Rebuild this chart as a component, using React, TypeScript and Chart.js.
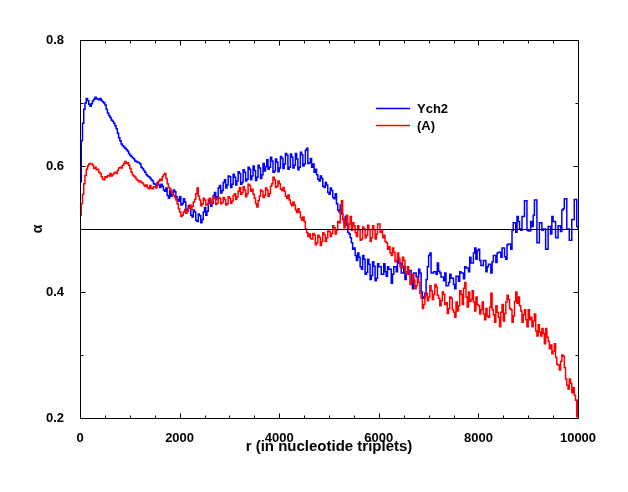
import React, { useEffect, useRef } from "react";
import { Chart, registerables } from "chart.js";

Chart.register(...registerables);

// sampling step along r (nucleotide triplets)
const R_STEP = 25;

// alpha(r) for Ych2, r = 0, 25, ..., 10000 (40 values per 1000)
const YCH2 = [
  0.575, 0.640, 0.668, 0.690, 0.700, 0.707, 0.704, 0.698, 0.695, 0.699, 0.703, 0.706, 0.709, 0.707, 0.706, 0.705, 0.707, 0.704, 0.702, 0.700,
  0.697, 0.690, 0.684, 0.680, 0.677, 0.673, 0.671, 0.668, 0.664, 0.659, 0.652, 0.645, 0.640, 0.635, 0.632, 0.630, 0.628, 0.626, 0.624, 0.620,
  0.617, 0.615, 0.613, 0.611, 0.608, 0.607, 0.606, 0.605, 0.603, 0.598, 0.596, 0.593, 0.590, 0.586, 0.584, 0.583, 0.581, 0.578, 0.576, 0.572,
  0.571, 0.569, 0.574, 0.570, 0.566, 0.571, 0.568, 0.562, 0.560, 0.565, 0.553, 0.549, 0.561, 0.552, 0.556, 0.562, 0.559, 0.551, 0.547, 0.544,
  0.551, 0.538, 0.540, 0.548, 0.543, 0.531, 0.528, 0.537, 0.533, 0.522, 0.519, 0.530, 0.527, 0.514, 0.512, 0.524, 0.521, 0.510, 0.515, 0.527,
  0.534, 0.522, 0.528, 0.540, 0.547, 0.536, 0.541, 0.553, 0.558, 0.547, 0.551, 0.565, 0.569, 0.557, 0.561, 0.574, 0.578, 0.565, 0.570, 0.584,
  0.583, 0.566, 0.571, 0.587, 0.582, 0.570, 0.576, 0.591, 0.588, 0.571, 0.574, 0.594, 0.590, 0.576, 0.579, 0.598, 0.595, 0.578, 0.584, 0.600,
  0.593, 0.577, 0.582, 0.601, 0.597, 0.580, 0.586, 0.604, 0.592, 0.599, 0.610, 0.595, 0.598, 0.614, 0.608, 0.590, 0.592, 0.611, 0.606, 0.591,
  0.597, 0.615, 0.612, 0.596, 0.603, 0.620, 0.617, 0.595, 0.598, 0.619, 0.614, 0.597, 0.601, 0.620, 0.611, 0.594, 0.598, 0.622, 0.618, 0.600,
  0.603, 0.625, 0.628, 0.604, 0.605, 0.612, 0.598, 0.603, 0.590, 0.595, 0.586, 0.579, 0.576, 0.584, 0.580, 0.568, 0.566, 0.574, 0.570, 0.558,
  0.555, 0.565, 0.561, 0.550, 0.548, 0.556, 0.540, 0.530, 0.527, 0.538, 0.524, 0.515, 0.510, 0.520, 0.506, 0.495, 0.492, 0.486, 0.478, 0.468,
  0.470, 0.458, 0.450, 0.462, 0.455, 0.440, 0.436, 0.458, 0.452, 0.428, 0.431, 0.452, 0.444, 0.420, 0.426, 0.448, 0.441, 0.418, 0.422, 0.445,
  0.440, 0.440, 0.428, 0.428, 0.445, 0.432, 0.425, 0.440, 0.436, 0.436, 0.414, 0.428, 0.440, 0.440, 0.432, 0.455, 0.446, 0.446, 0.430, 0.430,
  0.441, 0.420, 0.428, 0.428, 0.434, 0.434, 0.418, 0.405, 0.430, 0.430, 0.424, 0.424, 0.436, 0.430, 0.400, 0.392, 0.390, 0.398, 0.420, 0.440,
  0.458, 0.462, 0.430, 0.430, 0.432, 0.432, 0.428, 0.446, 0.433, 0.430, 0.424, 0.424, 0.418, 0.430, 0.410, 0.410, 0.415, 0.428, 0.422, 0.422,
  0.412, 0.405, 0.425, 0.425, 0.417, 0.432, 0.430, 0.430, 0.421, 0.440, 0.438, 0.438, 0.432, 0.455, 0.446, 0.446, 0.462, 0.470, 0.452, 0.466,
  0.468, 0.450, 0.442, 0.442, 0.450, 0.450, 0.432, 0.440, 0.444, 0.444, 0.430, 0.448, 0.458, 0.458, 0.447, 0.462, 0.463, 0.463, 0.455, 0.470,
  0.470, 0.456, 0.452, 0.475, 0.476, 0.476, 0.468, 0.498, 0.510, 0.510, 0.495, 0.520, 0.512, 0.500, 0.498, 0.520, 0.520, 0.545, 0.545, 0.498,
  0.497, 0.497, 0.512, 0.504, 0.522, 0.546, 0.546, 0.478, 0.478, 0.510, 0.510, 0.498, 0.500, 0.500, 0.468, 0.468, 0.504, 0.504, 0.492, 0.520,
  0.512, 0.512, 0.486, 0.486, 0.505, 0.505, 0.496, 0.530, 0.532, 0.548, 0.548, 0.500, 0.500, 0.482, 0.482, 0.515, 0.515, 0.547, 0.547, 0.504,
  0.498,
];

// alpha(r) for (A), r = 0, 25, ..., 10000 (40 values per 1000)
const SERIES_A = [
  0.522, 0.540, 0.555, 0.572, 0.585, 0.595, 0.600, 0.603, 0.604, 0.603, 0.601, 0.596, 0.598, 0.594, 0.595, 0.590, 0.588, 0.583, 0.579, 0.578,
  0.583, 0.582, 0.585, 0.584, 0.588, 0.584, 0.586, 0.589, 0.590, 0.588, 0.593, 0.597, 0.598, 0.597, 0.601, 0.604, 0.607, 0.604, 0.605, 0.601,
  0.596, 0.590, 0.586, 0.584, 0.582, 0.579, 0.577, 0.575, 0.576, 0.574, 0.573, 0.570, 0.568, 0.570, 0.566, 0.564, 0.569, 0.565, 0.564, 0.567,
  0.567, 0.565, 0.572, 0.576, 0.579, 0.577, 0.583, 0.586, 0.588, 0.580, 0.572, 0.566, 0.564, 0.560, 0.556, 0.553, 0.550, 0.546, 0.540, 0.532,
  0.527, 0.520, 0.522, 0.527, 0.531, 0.525, 0.528, 0.534, 0.538, 0.531, 0.536, 0.543, 0.547, 0.556, 0.565, 0.552, 0.546, 0.537, 0.540, 0.549,
  0.546, 0.538, 0.539, 0.547, 0.549, 0.540, 0.543, 0.551, 0.548, 0.539, 0.541, 0.550, 0.549, 0.540, 0.542, 0.550, 0.547, 0.538, 0.540, 0.551,
  0.549, 0.541, 0.544, 0.553, 0.556, 0.547, 0.551, 0.560, 0.566, 0.555, 0.558, 0.567, 0.562, 0.551, 0.556, 0.571, 0.569, 0.560, 0.563, 0.555,
  0.549, 0.540, 0.535, 0.545, 0.552, 0.562, 0.560, 0.550, 0.553, 0.565, 0.562, 0.552, 0.556, 0.568, 0.572, 0.582, 0.578, 0.566, 0.568, 0.576,
  0.572, 0.563, 0.561, 0.566, 0.560, 0.552, 0.549, 0.554, 0.546, 0.540, 0.537, 0.543, 0.538, 0.530, 0.526, 0.532, 0.527, 0.518, 0.514, 0.519,
  0.512, 0.500, 0.494, 0.488, 0.492, 0.485, 0.484, 0.493, 0.490, 0.475, 0.478, 0.490, 0.487, 0.474, 0.480, 0.494, 0.491, 0.480, 0.486, 0.497,
  0.496, 0.488, 0.493, 0.505, 0.502, 0.492, 0.498, 0.512, 0.510, 0.528, 0.545, 0.515, 0.502, 0.512, 0.522, 0.500, 0.508, 0.520, 0.498, 0.510,
  0.505, 0.494, 0.488, 0.505, 0.499, 0.482, 0.484, 0.503, 0.500, 0.486, 0.490, 0.506, 0.499, 0.480, 0.486, 0.505, 0.499, 0.484, 0.492, 0.508,
  0.508, 0.495, 0.497, 0.486, 0.490, 0.480, 0.478, 0.468, 0.472, 0.462, 0.458, 0.470, 0.463, 0.448, 0.450, 0.462, 0.453, 0.440, 0.438, 0.455,
  0.450, 0.432, 0.428, 0.440, 0.432, 0.412, 0.416, 0.428, 0.419, 0.405, 0.410, 0.422, 0.415, 0.398, 0.390, 0.374, 0.380, 0.394, 0.398, 0.386,
  0.392, 0.410, 0.402, 0.388, 0.396, 0.412, 0.408, 0.395, 0.390, 0.378, 0.386, 0.400, 0.396, 0.380, 0.383, 0.366, 0.374, 0.392, 0.390, 0.372,
  0.368, 0.360, 0.384, 0.370, 0.378, 0.402, 0.396, 0.380, 0.406, 0.415, 0.392, 0.376, 0.400, 0.385, 0.388, 0.402, 0.384, 0.370, 0.392, 0.380,
  0.378, 0.365, 0.372, 0.384, 0.365, 0.356, 0.374, 0.362, 0.360, 0.376, 0.398, 0.372, 0.364, 0.352, 0.378, 0.368, 0.360, 0.345, 0.368, 0.380,
  0.354, 0.366, 0.384, 0.395, 0.388, 0.374, 0.372, 0.352, 0.362, 0.385, 0.400, 0.382, 0.392, 0.378, 0.370, 0.352, 0.364, 0.372, 0.356, 0.345,
  0.372, 0.356, 0.360, 0.345, 0.354, 0.365, 0.338, 0.330, 0.348, 0.336, 0.330, 0.342, 0.334, 0.318, 0.342, 0.328, 0.322, 0.310, 0.316, 0.302,
  0.306, 0.318, 0.296, 0.285, 0.284, 0.276, 0.290, 0.300, 0.298, 0.280, 0.262, 0.252, 0.246, 0.262, 0.255, 0.240, 0.248, 0.236, 0.228, 0.202,
  0.230,
];

const REF_LEVEL = 0.5;
const X_RANGE = [0, 10000];
const Y_RANGE = [0.2, 0.8];
const X_MAJOR = 2000;
const X_MINOR = 500;
const Y_MAJOR = 0.2;
const Y_MINOR = 0.1;
const LEGEND = ["Ych2", "(A)"];
const COLORS = ["#0000ff", "#ff0000"];

const FONT = "'Liberation Sans', Arial, Helvetica, sans-serif";

const toPoints = (vals: number[]) => vals.map((v, i) => ({ x: i * R_STEP, y: v }));

const decorPlugin = {
  id: "decor",
  afterDatasetsDraw(chart: any) {
    const { ctx, chartArea: a, scales } = chart;
    const xs = scales.x;
    const ys = scales.y;
    const L = Math.round(a.left) + 0.5;
    const R = Math.round(a.right) + 0.5;
    const T = Math.round(a.top) + 0.5;
    const B = Math.round(a.bottom) + 0.5;
    ctx.save();
    ctx.strokeStyle = "#000";
    ctx.lineWidth = 1;
    ctx.beginPath();
    // reference level alpha = 0.5
    const ry = Math.round(ys.getPixelForValue(REF_LEVEL)) + 0.5;
    ctx.moveTo(L, ry);
    ctx.lineTo(R, ry);
    ctx.rect(L, T, R - L, B - T);
    // x ticks (inward, top and bottom)
    for (let v = X_RANGE[0]; v <= X_RANGE[1] + 1e-6; v += X_MINOR) {
      const px = Math.round(xs.getPixelForValue(v)) + 0.5;
      const len = Math.abs(v % X_MAJOR) < 1e-6 ? 5 : 3;
      ctx.moveTo(px, B);
      ctx.lineTo(px, B - len);
      ctx.moveTo(px, T);
      ctx.lineTo(px, T + len);
    }
    // y ticks (inward, left and right)
    const n = Math.round((Y_RANGE[1] - Y_RANGE[0]) / Y_MINOR);
    for (let k = 0; k <= n; k++) {
      const v = Y_RANGE[0] + k * Y_MINOR;
      const py = Math.round(ys.getPixelForValue(v)) + 0.5;
      const q = (v - Y_RANGE[0]) / Y_MAJOR;
      const len = Math.abs(q - Math.round(q)) < 1e-6 ? 5 : 3;
      ctx.moveTo(L, py);
      ctx.lineTo(L + len, py);
      ctx.moveTo(R, py);
      ctx.lineTo(R - len, py);
    }
    ctx.stroke();

    // legend
    const lx0 = a.left + 296;
    const lx1 = a.left + 330;
    const tx = a.left + 337;
    const ly = [a.top + 68.5, a.top + 85.5];
    ctx.font = `bold 13px ${FONT}`;
    ctx.textBaseline = "middle";
    ctx.textAlign = "left";
    LEGEND.forEach((label, i) => {
      ctx.strokeStyle = COLORS[i];
      ctx.lineWidth = 1.6;
      ctx.beginPath();
      ctx.moveTo(lx0, ly[i]);
      ctx.lineTo(lx1, ly[i]);
      ctx.stroke();
      ctx.fillStyle = "#000";
      ctx.fillText(label, tx, ly[i] + 1);
    });
    ctx.restore();
  },
};

export default function App() {
  const ref = useRef<HTMLCanvasElement | null>(null);

  useEffect(() => {
    if (!ref.current) return;
    const chart = new Chart(ref.current, {
      type: "line",
      data: {
        datasets: [
          {
            label: LEGEND[1],
            data: toPoints(SERIES_A),
            borderColor: COLORS[1],
            borderWidth: 1.5,
            pointRadius: 0,
            stepped: true,
            order: 1,
          },
          {
            label: LEGEND[0],
            data: toPoints(YCH2),
            borderColor: COLORS[0],
            borderWidth: 1.5,
            pointRadius: 0,
            stepped: true,
            order: 2,
          },
        ],
      },
      options: {
        animation: false,
        responsive: false,
        devicePixelRatio: 1,
        layout: { padding: { top: 40, right: 50, left: 0, bottom: 0 } },
        plugins: { legend: { display: false }, tooltip: { enabled: false } },
        scales: {
          x: {
            type: "linear",
            min: X_RANGE[0],
            max: X_RANGE[1],
            grid: { display: false },
            border: { display: false },
            ticks: {
              stepSize: X_MAJOR,
              color: "#000",
              padding: 5,
              maxRotation: 0,
              font: { family: FONT, size: 13, weight: "bold" },
              callback: (v: any) => String(v),
            },
            title: {
              display: true,
              text: "r (in nucleotide triplets)",
              color: "#000",
              font: { family: FONT, size: 15, weight: "bold" },
              padding: { top: 0, bottom: 36 },
            },
            afterFit: (s: any) => {
              s.height = 74;
            },
          },
          y: {
            type: "linear",
            min: Y_RANGE[0],
            max: Y_RANGE[1],
            grid: { display: false },
            border: { display: false },
            ticks: {
              stepSize: Y_MAJOR,
              color: "#000",
              padding: 8,
              font: { family: FONT, size: 13, weight: "bold" },
              callback: (v: any) => Number(v).toFixed(1),
            },
            title: {
              display: true,
              text: "α",
              color: "#000",
              font: { family: FONT, size: 14, weight: "bold" },
              padding: { top: 30, bottom: 0 },
            },
            afterFit: (s: any) => {
              s.width = 80;
            },
          },
        },
      },
      plugins: [decorPlugin],
    });
    return () => chart.destroy();
  }, []);

  return (
    <div style={{ position: "absolute", left: 0, top: 0, width: 628, height: 492, background: "#fff" }}>
      <canvas ref={ref} width={628} height={492} style={{ width: 628, height: 492, display: "block" }} />
    </div>
  );
}
